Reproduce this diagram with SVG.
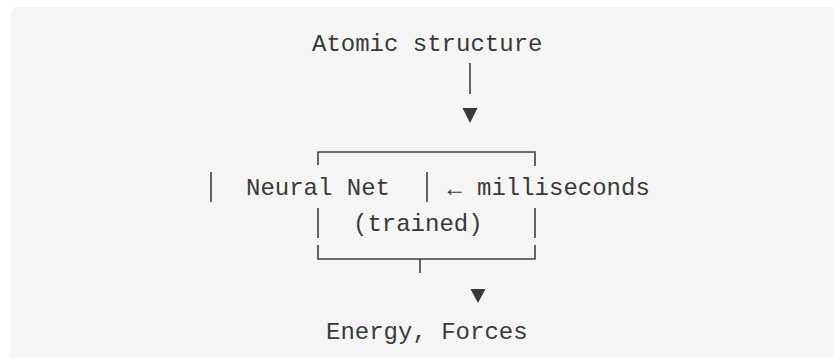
<svg xmlns="http://www.w3.org/2000/svg" width="834" height="358" viewBox="0 0 834 358">
  <style>
    .t { font-family: "Liberation Mono", "DejaVu Sans Mono", monospace; font-size: 24px; fill: #383a36; }
    .b { fill: none; stroke: #41433f; stroke-width: 1.6; }
    .h { fill: #383a36; }
  </style>
  <rect x="0" y="0" width="834" height="358" fill="#ffffff"/>
  <rect x="10" y="7" width="840" height="360" rx="7" fill="#f5f5f5"/>

  <g id="node-atomic">
    <text class="t" x="312" y="51">Atomic structure</text>
  </g>

  <g id="node-neural-net">
    <path class="b" d="M318 165 V152 H535 V166"/>
    <path class="b" d="M211 172 V202 M427 172 V202"/>
    <path class="b" d="M318 208 V238 M535 208 V238"/>
    <path class="b" d="M318 245 V259 H535 V245"/>
    <text class="t" x="246" y="195">Neural Net</text>
    <text class="t" x="353" y="231">(trained)</text>
  </g>

  <g id="node-milliseconds">
    <text class="t" x="477" y="195">milliseconds</text>
  </g>

  <g id="node-energy">
    <text class="t" x="326" y="339">Energy, Forces</text>
  </g>

  <g id="connectors">
    <path class="b" d="M470 63 V94"/>
    <polygon class="h" points="462.5,108 477.5,108 470,123"/>
    <path class="b" d="M420 259 V273"/>
    <polygon class="h" points="470.5,289 485.5,289 478,303"/>
    <text class="t" x="447.5" y="196" style="font-size:24px">←</text>
  </g>
</svg>
